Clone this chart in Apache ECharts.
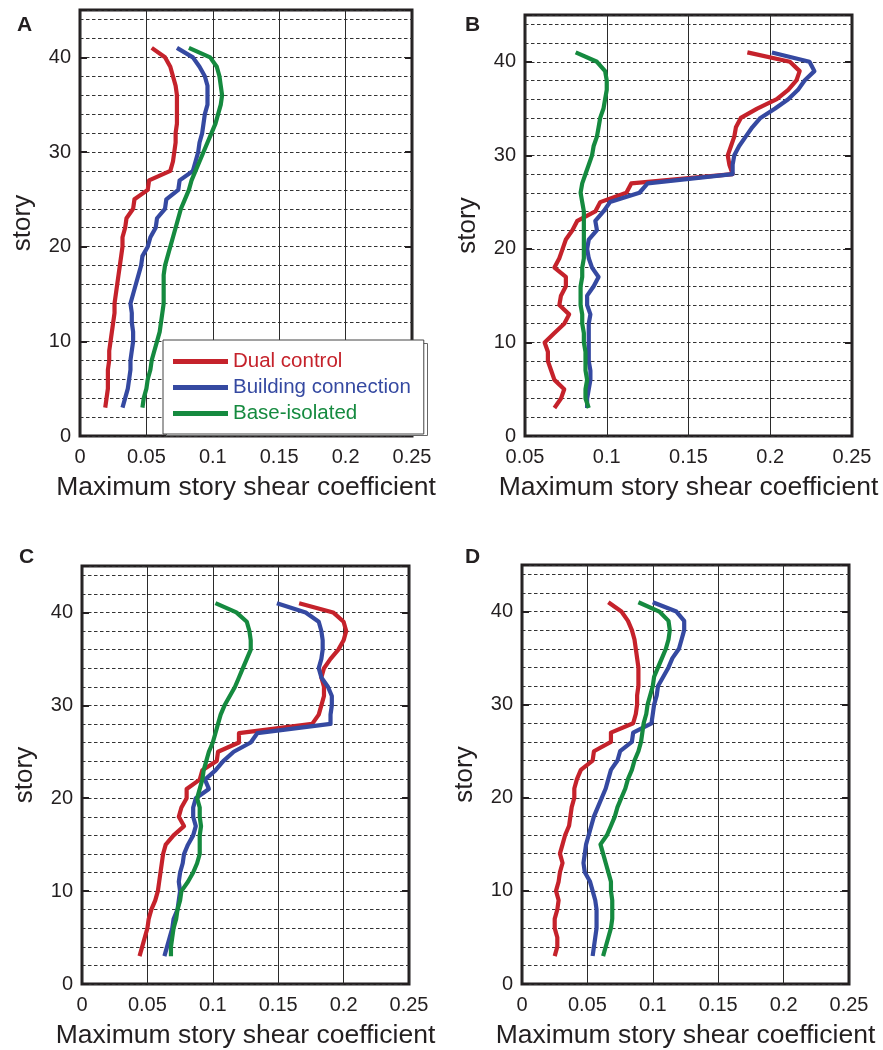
<!DOCTYPE html>
<html>
<head>
<meta charset="utf-8">
<script src="https://cdn.jsdelivr.net/npm/echarts@6/dist/echarts.min.js"></script>
<style>
html,body{margin:0;padding:0;background:#fff;}
#chart{width:883px;height:1050px;}
</style>
</head>
<body>
<div id="chart"></div>
<script>
// ---------- data ----------
const stories = [3,4,5,6,7,8,9,10,11,12,13,14,15,16,17,18,19,20,21,22,23,24,25,26,27,28,29,30,31,32,33,34,35,36,37,38,39,40,41];
const seriesNames = ['Dual control', 'Building connection', 'Base-isolated'];
const panelLetters = ['A', 'B', 'C', 'D'];
const xTickMin = [0, 0.05, 0, 0];
const xTickMax = 0.25;
const xTickStep = 0.05;
const yLabelTicks = [0, 10, 20, 30, 40];

// Panel A
const aDual = [0.019,0.020,0.021,0.021,0.021,0.022,0.022,0.023,0.024,0.025,0.026,0.026,0.027,0.028,0.029,0.030,0.031,0.032,0.032,0.034,0.035,0.040,0.041,0.051,0.052,0.068,0.070,0.071,0.072,0.072,0.073,0.073,0.073,0.073,0.072,0.070,0.068,0.064,0.054];
const aConn = [0.032,0.034,0.036,0.037,0.038,0.038,0.039,0.040,0.040,0.039,0.039,0.038,0.040,0.042,0.044,0.046,0.047,0.051,0.053,0.057,0.058,0.064,0.065,0.074,0.075,0.085,0.087,0.089,0.090,0.092,0.093,0.094,0.096,0.096,0.096,0.094,0.090,0.085,0.073];
const aBase = [0.047,0.048,0.050,0.051,0.053,0.054,0.056,0.058,0.060,0.061,0.062,0.063,0.063,0.063,0.063,0.064,0.066,0.068,0.070,0.072,0.074,0.076,0.079,0.082,0.084,0.087,0.090,0.093,0.096,0.099,0.102,0.104,0.106,0.107,0.106,0.105,0.103,0.098,0.082];
// Panel B
const bDual = [0.068,0.072,0.074,0.068,0.066,0.064,0.064,0.062,0.068,0.074,0.077,0.071,0.072,0.075,0.075,0.068,0.071,0.073,0.075,0.079,0.082,0.093,0.096,0.112,0.115,0.177,0.175,0.174,0.176,0.178,0.179,0.182,0.192,0.204,0.211,0.216,0.218,0.212,0.186];
const bConn = [0.088,0.088,0.089,0.090,0.090,0.089,0.089,0.089,0.089,0.089,0.090,0.088,0.088,0.092,0.095,0.091,0.089,0.088,0.089,0.094,0.093,0.098,0.102,0.120,0.125,0.177,0.177,0.178,0.181,0.185,0.189,0.194,0.203,0.211,0.217,0.221,0.227,0.224,0.201];
const bBase = [0.089,0.087,0.087,0.088,0.087,0.087,0.087,0.086,0.086,0.085,0.085,0.084,0.084,0.084,0.085,0.085,0.086,0.086,0.086,0.086,0.086,0.086,0.085,0.084,0.085,0.087,0.089,0.091,0.092,0.094,0.095,0.096,0.098,0.099,0.100,0.100,0.099,0.094,0.081];
// Panel C
const cDual = [0.044,0.046,0.048,0.050,0.051,0.053,0.056,0.058,0.059,0.060,0.061,0.062,0.064,0.070,0.078,0.074,0.076,0.080,0.080,0.090,0.092,0.103,0.104,0.120,0.120,0.176,0.181,0.183,0.185,0.185,0.183,0.185,0.190,0.196,0.200,0.202,0.200,0.192,0.166];
const cConn = [0.063,0.065,0.067,0.069,0.070,0.073,0.074,0.075,0.074,0.075,0.077,0.078,0.081,0.085,0.087,0.085,0.085,0.087,0.097,0.094,0.102,0.108,0.116,0.129,0.134,0.190,0.190,0.191,0.191,0.188,0.183,0.181,0.183,0.184,0.184,0.183,0.181,0.171,0.149];
const cBase = [0.068,0.068,0.069,0.070,0.072,0.073,0.075,0.076,0.081,0.085,0.088,0.090,0.090,0.090,0.091,0.090,0.090,0.088,0.090,0.092,0.093,0.095,0.097,0.100,0.102,0.104,0.106,0.109,0.113,0.117,0.120,0.123,0.126,0.129,0.129,0.128,0.126,0.118,0.102];
// Panel D
const dDual = [0.025,0.027,0.027,0.025,0.025,0.027,0.028,0.026,0.028,0.029,0.031,0.029,0.031,0.033,0.036,0.037,0.038,0.040,0.040,0.042,0.045,0.054,0.055,0.068,0.068,0.085,0.087,0.088,0.088,0.089,0.089,0.089,0.088,0.087,0.086,0.084,0.081,0.076,0.066];
const dConn = [0.054,0.055,0.056,0.057,0.057,0.057,0.056,0.054,0.052,0.048,0.047,0.048,0.049,0.051,0.053,0.055,0.058,0.061,0.064,0.066,0.068,0.073,0.075,0.084,0.085,0.099,0.100,0.101,0.103,0.104,0.108,0.112,0.115,0.120,0.122,0.124,0.124,0.118,0.100];
const dBase = [0.062,0.064,0.066,0.068,0.069,0.069,0.069,0.068,0.068,0.066,0.064,0.062,0.060,0.065,0.068,0.071,0.073,0.076,0.079,0.081,0.084,0.086,0.089,0.091,0.092,0.093,0.095,0.096,0.098,0.100,0.101,0.104,0.107,0.110,0.112,0.113,0.112,0.105,0.089];

const panelData = [[aDual,aConn,aBase],[bDual,bConn,bBase],[cDual,cConn,cBase],[dDual,dConn,dBase]];

// ---------- styles ----------
const colors = ['#c5222b', '#3549a1', '#158a3f'];
const FONT = "'Liberation Sans', Arial, Helvetica, sans-serif";
const INK = '#231f20';
const grids = [
  {left: 80, top: 10, width: 332, height: 426},
  {left: 525, top: 15, width: 327, height: 421},
  {left: 82, top: 566, width: 327, height: 420},
  {left: 522, top: 565, width: 327, height: 421}
];
const letterPos = [[17, 15], [465, 15], [19, 547], [465, 547]];

const option = {
  animation: false,
  backgroundColor: '#fff',
  textStyle: {fontFamily: FONT},
  title: panelLetters.map((t, i) => ({
    text: t, left: letterPos[i][0], top: letterPos[i][1], padding: 0,
    textStyle: {fontSize: 21, fontWeight: 'bold', color: INK, fontFamily: FONT}
  })),
  grid: grids.map(g => Object.assign({show: true, borderWidth: 3, borderColor: INK, backgroundColor: 'transparent', containLabel: false}, g)),
  xAxis: grids.map((g, i) => ({
    type: 'value', gridIndex: i, min: xTickMin[i], max: xTickMax, interval: xTickStep,
    name: 'Maximum story shear coefficient', nameLocation: 'middle', nameGap: 38,
    nameTextStyle: {fontSize: 26.5, color: INK, fontFamily: FONT},
    axisLine: {show: false}, axisTick: {show: false},
    axisLabel: {fontSize: 20, color: INK, margin: 11, fontFamily: FONT,
      formatter: v => String(parseFloat(Number(v).toFixed(2)))},
    splitLine: {show: true, lineStyle: {color: '#2b2b2b', width: 1, type: 'solid'}}
  })),
  yAxis: [],
  legend: {
    show: true, orient: 'vertical', left: 163, top: 340,
    icon: 'rect', itemWidth: 55, itemHeight: 5, itemGap: 5,
    padding: [11, 13, 10, 10],
    backgroundColor: '#fff', borderColor: '#444', borderWidth: 1,
    textStyle: {fontSize: 20.5, fontFamily: FONT},
    data: seriesNames.map((n, k) => ({name: n, textStyle: {color: colors[k]}})),
    z: 10
  },
  graphic: [{
    type: 'rect', left: 166, top: 343, z: 9,
    shape: {width: 261, height: 92},
    style: {fill: '#fff', stroke: '#666', lineWidth: 1}
  }],
  series: []
};

grids.forEach((g, i) => {
  // labelled axis with ticks at 10s
  option.yAxis.push({
    type: 'value', gridIndex: i, position: 'left', min: 0, max: 45, interval: 10,
    name: 'story', nameLocation: 'middle', nameGap: 44,
    nameTextStyle: {fontSize: 26, color: INK, fontFamily: FONT},
    axisLine: {show: false},
    axisTick: {show: true, inside: true, length: 7, lineStyle: {color: INK, width: 2}},
    axisLabel: {fontSize: 20, color: INK, margin: 9, fontFamily: FONT,
      formatter: v => (yLabelTicks.indexOf(v) >= 0 ? String(v) : '')},
    splitLine: {show: false}
  });
  // dashed grid every 2 stories
  option.yAxis.push({
    type: 'value', gridIndex: i, position: 'left', min: 0, max: 45, interval: 2,
    axisLine: {show: false}, axisTick: {show: false}, axisLabel: {show: false},
    splitLine: {show: true, lineStyle: {color: '#333', width: 1, type: [3.5, 2.5]}}
  });
  // right-hand ticks
  option.yAxis.push({
    type: 'value', gridIndex: i, position: 'right', min: 0, max: 45, interval: 10,
    axisLine: {show: false}, axisLabel: {show: false}, splitLine: {show: false},
    axisTick: {show: true, inside: true, length: 7, lineStyle: {color: INK, width: 2}}
  });
  panelData[i].forEach((vals, k) => {
    option.series.push({
      name: seriesNames[k], type: 'line', xAxisIndex: i, yAxisIndex: i * 3,
      showSymbol: false, symbol: 'none', z: 3,
      lineStyle: {color: colors[k], width: 4.2, join: 'round', cap: 'butt'},
      itemStyle: {color: colors[k]},
      data: stories.map((s, j) => [vals[j], s])
    });
  });
});

const chart = echarts.init(document.getElementById('chart'), null, {renderer: 'canvas'});
chart.setOption(option);
</script>
</body>
</html>
